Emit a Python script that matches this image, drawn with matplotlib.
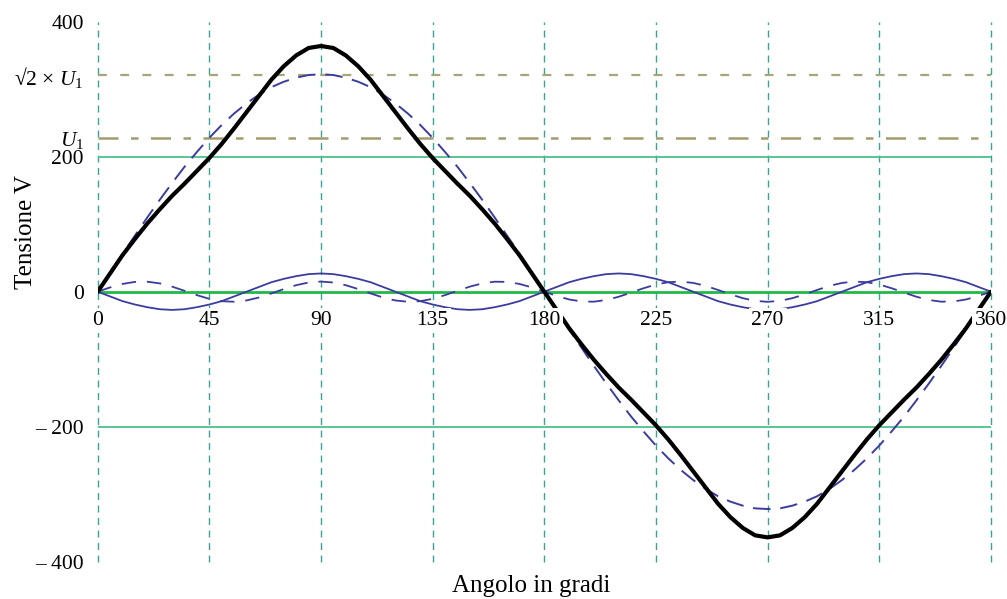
import numpy as np
import matplotlib
matplotlib.use("Agg")
import matplotlib.pyplot as plt

# angle grid (degrees) and the values
angles = list(range(0, 361, 5))

# fundamental, dashed blue sine (peak ~ sqrt(2)*U1)
fundamental = [0, 28, 56, 83, 110, 136, 161, 185, 207, 228, 247, 264, 279, 292, 303, 311, 317, 321, 322,
               321, 317, 311, 303, 292, 279, 264, 247, 228, 207, 185, 161, 136, 110, 83, 56, 28, 0,
               -28, -56, -83, -110, -136, -161, -185, -207, -228, -247, -264, -279, -292, -303, -311, -317, -321, -322,
               -321, -317, -311, -303, -292, -279, -264, -247, -228, -207, -185, -161, -136, -110, -83, -56, -28, 0]

# small solid blue ripple (3rd harmonic)
harm3 = [0, -7, -14, -19, -23, -26, -27, -26, -23, -19, -14, -7, 0, 7, 14, 19, 23, 26, 27, 26, 23, 19, 14, 7, 0,
         -7, -14, -19, -23, -26, -27, -26, -23, -19, -14, -7, 0, 7, 14, 19, 23, 26, 27, 26, 23, 19, 14, 7, 0,
         -7, -14, -19, -23, -26, -27, -26, -23, -19, -14, -7, 0, 7, 14, 19, 23, 26, 27, 26, 23, 19, 14, 7, 0]

# small dashed blue ripple (5th harmonic)
harm5 = [0, 6.3, 11.5, 14.5, 14.8, 12.3, 7.5, 1.3, -5.1, -10.6, -14.1, -14.9, -13.0, -8.6, -2.6, 3.9, 9.6, 13.6, 15,
         13.6, 9.6, 3.9, -2.6, -8.6, -13.0, -14.9, -14.1, -10.6, -5.1, 1.3, 7.5, 12.3, 14.8, 14.5, 11.5, 6.3, 0,
         -6.3, -11.5, -14.5, -14.8, -12.3, -7.5, -1.3, 5.1, 10.6, 14.1, 14.9, 13.0, 8.6, 2.6, -3.9, -9.6, -13.6, -15,
         -13.6, -9.6, -3.9, 2.6, 8.6, 13.0, 14.9, 14.1, 10.6, 5.1, -1.3, -7.5, -12.3, -14.8, -14.5, -11.5, -6.3, 0]

# thick black resulting voltage
total = [0, 27, 54, 78, 101, 122, 142, 160, 179, 198, 219, 242, 266, 290, 314, 334, 350, 361, 364,
         361, 350, 334, 314, 290, 266, 242, 219, 198, 179, 160, 142, 122, 101, 78, 54, 27, 0,
         -27, -54, -78, -101, -122, -142, -160, -179, -198, -219, -242, -266, -290, -314, -334, -350, -361, -364,
         -361, -350, -334, -314, -290, -266, -242, -219, -198, -179, -160, -142, -122, -101, -78, -54, -27, 0]

U1 = 227
x_ticks = [0, 45, 90, 135, 180, 225, 270, 315, 360]
y_ticks = [-400, -200, 0, 200, U1, 321, 400]
y_labels = ["\u2013 400", "\u2013 200", "0", "200", "$U_1$", "\u221a2 \u00d7 $U_1$", "400"]

plt.rcParams["font.family"] = ["Liberation Serif", "DejaVu Serif"]
plt.rcParams["mathtext.fontset"] = "custom"
plt.rcParams["mathtext.rm"] = "Liberation Serif"
plt.rcParams["mathtext.it"] = "Liberation Serif:italic"

fig = plt.figure(figsize=(10.07, 5.99), dpi=100)
ax = fig.add_axes([0.097, 0.0623, 0.887, 0.9015])

blue = "#3c3c9c"

# grid-like reference lines
for xv in x_ticks:
    ax.axvline(xv, color="#3aa394", lw=1.0, ls=(0, (5, 4)), zorder=1, clip_on=False)
for yv in (-200, 200):
    ax.axhline(yv, color="#4cc08c", lw=1.3, zorder=1)
ax.axhline(0, color="#22b84a", lw=2.0, zorder=1)
ax.axhline(y_ticks[5], color="#a8a47c", lw=1.6, ls=(0, (4, 6)), zorder=1)
ax.axhline(U1, color="#a39c6e", lw=1.8, ls=(0, (8, 5, 3, 5)), zorder=1)

ax.plot(angles, fundamental, color=blue, lw=1.4, ls=(0, (9, 5)), zorder=3)
ax.plot(angles, harm3, color=blue, lw=1.3, zorder=3)
ax.plot(angles, harm5, color=blue, lw=1.3, ls=(0, (8, 6)), zorder=3)
ax.plot(angles, total, color="black", lw=3.0, zorder=4, solid_capstyle="round")

ax.set_xlim(0, 360)
ax.set_ylim(-400, 400)
for s in ax.spines.values():
    s.set_visible(False)
ax.spines["bottom"].set_position(("data", 0))

ax.set_xticks(x_ticks)
ax.set_yticks(y_ticks)
ax.set_yticklabels(y_labels)
ax.tick_params(axis="x", length=0, pad=14, labelsize=15.5)
ax.tick_params(axis="y", length=0, pad=10, labelsize=15.5)
for lab in ax.get_xticklabels():
    lab.set_bbox(dict(facecolor="white", edgecolor="none", pad=2))
ax.xaxis.set_zorder(6)

ax.set_xlabel("Angolo in gradi", fontsize=18)
ax.set_ylabel("Tensione V", fontsize=18)
ax.xaxis.set_label_coords(0.485, -0.024)
ax.yaxis.set_label_coords(-0.068, 0.61)

fig.savefig("out.png", dpi=100)
